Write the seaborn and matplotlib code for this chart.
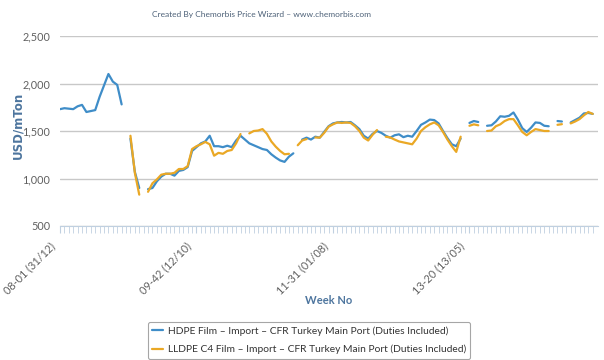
import numpy as np
import pandas as pd
import matplotlib
matplotlib.use("Agg")
import matplotlib.pyplot as plt
import matplotlib.transforms as mtransforms
import seaborn as sns

# chart values, one point every 3 weeks (NaN = no quote that week)
hdpe = [1730, 1740, 1735, 1730, 1760, 1775, 1700, 1710, 1720, 1860,
        1980, 2100, 2020, 1985, 1780, None, 1420, 1070, 900, None,
        888, 900, 970, 1020, 1050, 1050, 1030, 1080, 1090, 1120,
        1290, 1330, 1370, 1390, 1450, 1340, 1340, 1330, 1345, 1330,
        1400, 1450, 1410, 1370, 1350, 1330, 1310, 1300, 1255, 1220,
        1190, 1175, 1230, 1265, None, 1410, 1430, 1410, 1440, 1430,
        1490, 1550, 1580, 1590, 1595, 1590, 1595, 1560, 1520, 1450,
        1420, 1470, 1500, 1480, 1450, 1430, 1455, 1465, 1435, 1450,
        1440, 1500, 1565, 1590, 1620, 1615, 1580, 1500, 1425, 1360,
        1340, 1420, None, 1585, 1605, 1595, None, 1555, 1560, 1600,
        1655, 1650, 1660, 1695, 1620, 1530, 1490, 1535, 1590, 1585,
        1555, 1550, None, 1605, 1600, None, 1590, 1615, 1640, 1685,
        1690, 1680]
lldpe = [None] * 16 + [
        1450, 1060, 830, None,
        860, 950, 990, 1040, 1050, 1050, 1060, 1100, 1100, 1130,
        1310, 1340, 1360, 1385, 1360, 1240, 1270, 1260, 1290, 1300,
        1370, 1468, None, 1475, 1500, 1505, 1520, 1470, 1390, 1335,
        1290, 1255, 1260, None, 1350, 1400, 1415, None, 1432, 1430,
        1480, 1545, 1570, 1590, 1585, 1590, 1585, 1550, 1500, 1430,
        1400, 1460, 1510, None, 1440, 1432, 1410, 1390, 1380, 1370,
        1360, 1420, 1500, 1540, 1570, 1590, 1560, 1490, 1410, 1340,
        1280, 1440, None, 1555, 1570, 1560, None, 1500, 1505, 1550,
        1570, 1605, 1625, 1625, 1560, 1490, 1455, 1490, 1520, 1510,
        1500, 1500, None, 1565, 1572, None, 1580, 1600, 1625, 1665,
        1700, 1680]
tick_pos = [0, 31, 62, 93]
tick_labels = ["08-01 (31/12)", "09-42 (12/10)", "11-31 (01/08)", "13-20 (13/05)"]
names = ["HDPE Film – Import – CFR Turkey Main Port (Duties Included)",
         "LLDPE C4 Film – Import – CFR Turkey Main Port (Duties Included)"]

df = pd.DataFrame({names[0]: pd.to_numeric(hdpe), names[1]: pd.to_numeric(lldpe)})
df["idx"] = np.arange(len(df))

sns.set_style("white")
plt.rcParams["font.family"] = ["Lato", "DejaVu Sans"]

fig = plt.figure(figsize=(6.04, 3.6), dpi=100)
ax = fig.add_axes([60 / 604, 1 - 226 / 360, 538 / 604, 190 / 360])

# plain ax.plot keeps the NaN gaps
colors = ["#3f8dc8", "#eaa825"]
for name, c in zip(names, colors):
    ax.plot(df["idx"], df[name], color=c, lw=1.6, label=name)

ax.set_ylim(500, 2500)
ax.set_xlim(0, 122.2)
ax.set_yticks([500, 1000, 1500, 2000, 2500])
ax.set_yticklabels(["500", "1,000", "1,500", "2,000", "2,500"], color="#606060", fontsize=7.8)
ax.yaxis.grid(True, color="#c8c8c8", lw=1)
ax.tick_params(axis="y", length=0, pad=7)

ax.set_xticks(tick_pos)
ax.set_xticklabels(tick_labels, rotation=45, ha="right", va="center",
                   rotation_mode="anchor", color="#606060", fontsize=7.8)
ax.set_xticks(np.arange(len(df)), minor=True)
ax.tick_params(axis="x", which="both", length=5, color="#c0d0e0", pad=8, direction="out")
ax.xaxis.set_ticks_position("bottom")
shift = mtransforms.ScaledTranslation(-7 / 100, 0, fig.dpi_scale_trans)
for lab in ax.get_xticklabels():
    lab.set_transform(lab.get_transform() + shift)

for s in ["top", "right", "left"]:
    ax.spines[s].set_visible(False)
ax.spines["bottom"].set_color("#c0d0e0")

ax.set_ylabel("USD/mTon", color="#4d759e", fontweight="bold", fontsize=8.5,
              family="DejaVu Sans", va="center")
ax.yaxis.set_label_coords(-0.078, 0.53)
ax.set_xlabel("Week No", color="#4d759e", fontweight="bold", fontsize=8)
ax.xaxis.set_label_coords(0.5, -0.39)
ax.xaxis.label.set_va("center")

fig.text(261 / 604, 1 - 15 / 360, "Created By Chemorbis Price Wizard – www.chemorbis.com",
         ha="center", va="center", color="#4d6178", fontsize=6.0)

leg = fig.legend(loc="upper left", bbox_to_anchor=(148 / 604, 1 - 322 / 360),
                 fontsize=7.4, frameon=True, handlelength=1.05, handletextpad=0.5,
                 borderpad=0.4, borderaxespad=0, labelspacing=0.9, fancybox=True,
                 edgecolor="#909090")
leg.get_frame().set_linewidth(0.8)
for t in leg.get_texts():
    t.set_color("#333333")

fig.savefig("out.png", dpi=100)
